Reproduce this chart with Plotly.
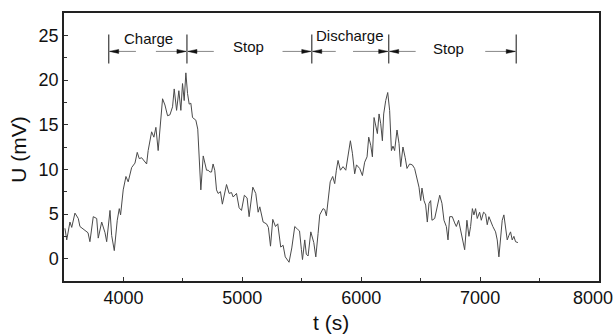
import plotly.graph_objects as go

# ---- data ----
t_s = [3508, 3523, 3550, 3565, 3592, 3620, 3634, 3676, 3702, 3718, 3746, 3775, 3788, 3817, 3845, 3859,
       3887, 3901, 3923, 3948, 3965, 3976, 3998, 4021, 4040, 4069, 4097, 4116, 4133, 4153, 4172, 4195,
       4208, 4237, 4256, 4273, 4292, 4313, 4329, 4349, 4371, 4391, 4413, 4427, 4447, 4466, 4483, 4497,
       4511, 4525, 4539, 4553, 4567, 4581, 4609, 4625, 4643, 4651, 4671, 4685, 4699, 4713, 4727, 4741,
       4754, 4768, 4783, 4796, 4816, 4832, 4853, 4867, 4889, 4909, 4923, 4951, 4973, 4993, 5017, 5040,
       5057, 5077, 5088, 5113, 5133, 5147, 5175, 5203, 5219, 5237, 5256, 5279, 5298, 5323, 5343, 5361,
       5378, 5393, 5416, 5441, 5464, 5481, 5497, 5506, 5525, 5538, 5553, 5576, 5601, 5618, 5637, 5651,
       5679, 5693, 5707, 5721, 5739, 5760, 5777, 5791, 5805, 5825, 5847, 5870, 5889, 5909, 5926, 5945,
       5960, 5987, 6010, 6029, 6049, 6063, 6080, 6094, 6108, 6122, 6136, 6150, 6164, 6178, 6189, 6206,
       6223, 6239, 6254, 6267, 6281, 6301, 6318, 6332, 6351, 6370, 6385, 6407, 6430, 6449, 6469, 6486,
       6500, 6511, 6528, 6542, 6556, 6570, 6584, 6595, 6618, 6637, 6660, 6679, 6696, 6716, 6730, 6744,
       6766, 6786, 6800, 6819, 6836, 6855, 6870, 6889, 6906, 6920, 6935, 6948, 6962, 6976, 6996, 7010,
       7029, 7046, 7060, 7074, 7094, 7107, 7130, 7144, 7158, 7172, 7186, 7200, 7214, 7228, 7242, 7256,
       7270, 7284, 7298, 7318]
U_mV = [3.4, 2.1, 4.1, 3.5, 5.1, 4.5, 3.6, 3.2, 2.9, 1.9, 4.7, 4.5, 2.3, 4.1, 2.9, 1.9,
        5.4, 2.6, 0.9, 4.3, 5.6, 4.9, 7.7, 9.2, 8.6, 10.2, 10.7, 11.9, 11.2, 11.3, 11.0, 10.6,
        12.1, 14.2, 13.6, 14.7, 12.1, 15.5, 17.9, 17.2, 16.0, 16.1, 17.0, 19.0, 16.6, 18.8, 16.6, 19.6,
        17.7, 20.8, 18.5, 17.3, 17.4, 15.8, 15.5, 14.5, 9.5, 7.7, 11.5, 10.5, 9.9, 9.9, 9.7, 9.7,
        10.6, 9.9, 7.7, 7.3, 7.5, 6.1, 7.7, 8.3, 7.3, 7.4, 6.9, 7.3, 5.7, 5.4, 7.1, 6.8,
        4.7, 7.1, 8.0, 7.3, 5.2, 5.8, 4.1, 3.9, 3.5, 1.4, 4.4, 3.6, 3.9, 1.3, 1.5, 0.2,
        -0.1, -0.4, 1.2, 3.6, 3.3, 3.1, 1.0, -0.1, 2.1, 0.5, 0.3, 3.0, 1.8, 0.2, 2.8, 4.9,
        5.6, 5.5, 4.8, 6.7, 8.6, 9.2, 8.4, 9.9, 11.0, 9.9, 10.3, 9.9, 11.4, 13.2, 11.8, 9.5,
        10.5, 10.1, 9.3, 10.8, 11.4, 13.6, 12.7, 11.4, 15.8, 14.7, 14.0, 16.2, 15.1, 13.2, 16.2, 17.7,
        18.6, 16.6, 12.1, 12.6, 12.1, 14.4, 12.9, 10.3, 12.5, 11.3, 10.1, 10.6, 10.5, 10.1, 8.8, 8.0,
        6.5, 7.9, 6.5, 6.0, 4.1, 6.2, 6.5, 4.3, 4.5, 5.8, 7.1, 6.2, 4.3, 3.6, 2.1, 4.7,
        4.7, 4.0, 3.6, 4.3, 3.2, 2.1, 1.0, 4.3, 2.5, 3.6, 5.6, 4.9, 5.6, 4.5, 5.2, 4.3,
        5.2, 5.0, 3.8, 4.7, 4.0, 3.6, 3.0, 2.1, 0.2, 2.1, 4.3, 4.9, 3.6, 2.1, 2.6, 3.0,
        2.1, 2.5, 1.9, 1.8]

phase_bounds = [3876, 4534, 5584, 6231, 7304]
phase_labels = ["Charge", "Stop", "Discharge", "Stop"]
label_x = [4208, 5049, 5903, 6730]
label_y = [24.6, 23.7, 24.95, 23.5]
# gap in the arrow line (start, end) for each phase
line_gaps = [(4105, 4273), (4760, 5338), (5786, 5931), (6458, 7043)]

x_ticks = [4000, 5000, 6000, 7000, 8000]
x_ticktext = ["4000", "5000", "6000", "7000", ""]   # last label drawn separately so it fits
x_last_label = "8000"
y_ticks = [0, 5, 10, 15, 20, 25]

FONT = "Liberation Sans, Arial, sans-serif"
arrow_y = 23.2
bar_lo, bar_hi = 21.85, 25.1

fig = go.Figure()
fig.add_trace(go.Scatter(x=t_s, y=U_mV, mode="lines",
                         line=dict(color="#4a4a4a", width=1), showlegend=False,
                         hoverinfo="skip"))

shapes = []
annotations = []
for b in phase_bounds:
    shapes.append(dict(type="line", xref="x", yref="y", x0=b, x1=b, y0=bar_lo, y1=bar_hi,
                       line=dict(color="#555555", width=1.4)))
for i, lab in enumerate(phase_labels):
    left, right = phase_bounds[i], phase_bounds[i + 1]
    g0, g1 = line_gaps[i]
    shapes.append(dict(type="line", xref="x", yref="y", x0=left, x1=g0, y0=arrow_y, y1=arrow_y,
                       line=dict(color="#888888", width=1)))
    shapes.append(dict(type="line", xref="x", yref="y", x0=g1, x1=right, y0=arrow_y, y1=arrow_y,
                       line=dict(color="#888888", width=1)))
    shapes.append(dict(type="path", xref="x", yref="y", xsizemode="pixel", ysizemode="pixel",
                       xanchor=left, yanchor=arrow_y, path="M1,0 L10,2 L10,-2 Z",
                       fillcolor="#111111", line=dict(color="#111111", width=0.5)))
    shapes.append(dict(type="path", xref="x", yref="y", xsizemode="pixel", ysizemode="pixel",
                       xanchor=right, yanchor=arrow_y, path="M-1,0 L-10,2 L-10,-2 Z",
                       fillcolor="#111111", line=dict(color="#111111", width=0.5)))
    annotations.append(dict(x=label_x[i], y=label_y[i], xref="x", yref="y", text=lab,
                            showarrow=False, font=dict(family=FONT, size=15, color="#111111"),
                            xanchor="center", yanchor="middle"))

# last x tick label, right-aligned to stay inside the picture
annotations.append(dict(x=x_ticks[-1], y=-0.064, xref="x", yref="paper", text=x_last_label,
                        showarrow=False, font=dict(family=FONT, size=18, color="#111111"),
                        xanchor="right", yanchor="middle", xshift=16))
# axis titles as positioned text
annotations.append(dict(x=0.499, y=-0.153, xref="paper", yref="paper", text="t (s)",
                        showarrow=False, font=dict(family=FONT, size=21, color="#111111"),
                        xanchor="center", yanchor="middle"))
annotations.append(dict(x=-0.084, y=0.49, xref="paper", yref="paper", text="U (mV)", textangle=-90,
                        showarrow=False, font=dict(family=FONT, size=21, color="#111111"),
                        xanchor="center", yanchor="middle"))

fig.update_layout(
    width=616, height=334,
    margin=dict(l=64, r=17, t=13, b=53, autoexpand=False),
    paper_bgcolor="white", plot_bgcolor="white",
    font=dict(family=FONT, color="#111111"),
    shapes=shapes, annotations=annotations, showlegend=False,
)
fig.update_xaxes(range=[3500, 8000], tickvals=x_ticks, ticktext=x_ticktext, ticks="inside",
                 ticklen=4, tickwidth=1, tickcolor="#333333", automargin=False,
                 minor=dict(ticks="inside", dtick=500, tick0=3500, ticklen=3, tickcolor="#333333"),
                 showgrid=False, zeroline=False, showline=True, linecolor="#222222", linewidth=1.5,
                 mirror=True, tickfont=dict(size=18, family=FONT, color="#111111"))
fig.update_yaxes(range=[-2.5, 27.5], tickvals=y_ticks, ticks="inside", ticklen=4, tickwidth=1,
                 tickcolor="#333333", automargin=False,
                 minor=dict(ticks="inside", dtick=2.5, tick0=0, ticklen=3, tickcolor="#333333"),
                 showgrid=False, zeroline=False, showline=True, linecolor="#222222", linewidth=1.5,
                 mirror=True, tickfont=dict(size=18, family=FONT, color="#111111"))

fig.write_html("out.html")
